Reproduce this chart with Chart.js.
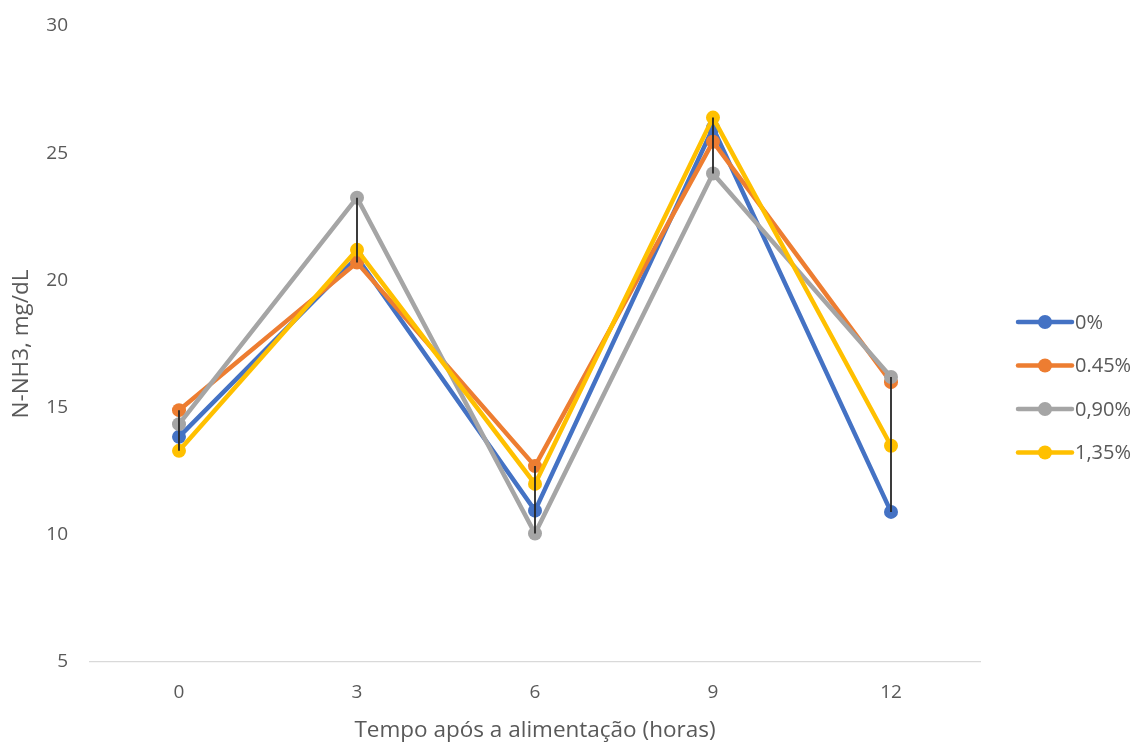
<!DOCTYPE html>
<html>
<head>
<meta charset="utf-8">
<script src="https://cdn.jsdelivr.net/npm/chart.js@4/dist/chart.umd.min.js"></script>
<style>
  html, body { margin: 0; padding: 0; background: #fff; }
  #wrap { width: 1135px; height: 745px; }
</style>
</head>
<body>
<div id="wrap"><canvas id="nh3"></canvas></div>
<script>
var horas = ['0', '3', '6', '9', '12'];
var serie0 = [13.85, 20.9, 10.95, 26.0, 10.9];
var serie045 = [14.9, 20.7, 12.7, 25.45, 16.0];
var serie090 = [14.35, 23.25, 10.05, 24.2, 16.2];
var serie135 = [13.3, 21.2, 12.0, 26.4, 13.5];
var nomes = ['0%', '0.45%', '0,90%', '1,35%'];
var cores = ['#4472C4', '#ED7D31', '#A5A5A5', '#FFC000'];
var yTicks = [5, 10, 15, 20, 25, 30];

var fonte = '"Open Sans", sans-serif';
var cinza = '#595959';

function serie(i, valores) {
	return {
		label: nomes[i],
		data: valores,
		borderColor: cores[i],
		backgroundColor: cores[i],
		borderWidth: 4.5,
		pointRadius: 7,
		pointHoverRadius: 7,
		pointBorderWidth: 0,
		tension: 0,
		order: 3 - i
	};
}

// black high-low lines between min and max of each category
var highLow = {
	id: 'highLow',
	afterDatasetsDraw: function(chart) {
		var ctx = chart.ctx, x = chart.scales.x, y = chart.scales.y;
		var sets = chart.data.datasets;
		ctx.save();
		ctx.strokeStyle = '#262626';
		ctx.lineWidth = 1.8;
		for (var k = 0; k < horas.length; k++) {
			var vals = sets.map(function(d){ return d.data[k]; });
			var px = x.getPixelForValue(k);
			ctx.beginPath();
			ctx.moveTo(px, y.getPixelForValue(Math.max.apply(null, vals)));
			ctx.lineTo(px, y.getPixelForValue(Math.min.apply(null, vals)));
			ctx.stroke();
		}
		ctx.restore();
	}
};

// legend drawn like Excel: line with marker, at right
var legendaDireita = {
	id: 'legendaDireita',
	afterDraw: function(chart) {
		var ctx = chart.ctx;
		var sets = chart.data.datasets;
		var x0 = 1018, x1 = 1072, yTop = 322, passo = 43.5;
		ctx.save();
		ctx.font = '20px ' + fonte;
		ctx.textBaseline = 'middle';
		ctx.textAlign = 'left';
		sets.forEach(function(d, i) {
			var yy = yTop + i * passo;
			ctx.strokeStyle = d.borderColor;
			ctx.lineWidth = 4.5;
			ctx.lineCap = 'round';
			ctx.beginPath();
			ctx.moveTo(x0, yy);
			ctx.lineTo(x1, yy);
			ctx.stroke();
			ctx.fillStyle = d.borderColor;
			ctx.beginPath();
			ctx.arc((x0 + x1) / 2, yy, 7, 0, Math.PI * 2);
			ctx.fill();
			ctx.fillStyle = cinza;
			ctx.fillText(d.label, x1 + 3, yy + 1);
		});
		ctx.restore();
	}
};

window.addEventListener('load', function(){
	var ctx = document.getElementById('nh3').getContext('2d');
	new Chart(ctx, {
		type: 'line',
		data: {
			labels: horas,
			datasets: [
				serie(0, serie0),
				serie(1, serie045),
				serie(2, serie090),
				serie(3, serie135)
			]
		},
		options: {
			responsive: true,
			maintainAspectRatio: false,
			animation: false,
			events: [],
			layout: { autoPadding: false, padding: { top: 26, right: 155, bottom: 0, left: 0 } },
			plugins: {
				legend: { display: false },
				tooltip: { enabled: false }
			},
			scales: {
				x: {
					offset: true,
					grid: { display: false, drawTicks: false },
					border: { display: true, color: '#D9D9D9', width: 1.3 },
					ticks: { color: cinza, font: { family: fonte, size: 19 }, padding: 19 },
					title: {
						display: true,
						text: 'Tempo após a alimentação (horas)',
						color: cinza,
						font: { family: fonte, size: 22.5 },
						padding: { top: 0, bottom: 1 }
					},
					afterFit: function(s) { s.height = 83; }
				},
				y: {
					min: 5,
					max: 30,
					afterBuildTicks: function(s) {
						s.ticks = yTicks.map(function(v){ return { value: v }; });
					},
					grid: { display: false, drawTicks: false },
					border: { display: false },
					ticks: { color: cinza, font: { family: fonte, size: 19 }, padding: 22 },
					title: {
						display: true,
						text: 'N-NH3, mg/dL',
						color: cinza,
						font: { family: fonte, size: 22.5 },
						padding: { top: 8, bottom: 0 }
					},
					afterFit: function(s) {
						s.width = 90;
						s.paddingTop = 0;
						s.paddingBottom = 0;
					}
				}
			}
		},
		plugins: [highLow, legendaDireita]
	});
});
</script>
</body>
</html>
